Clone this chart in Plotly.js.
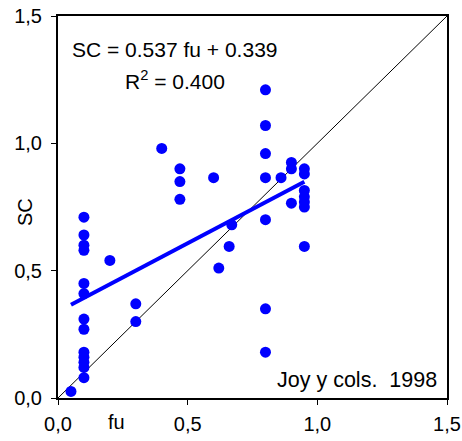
<!DOCTYPE html>
<html>
<head>
<meta charset="utf-8">
<script src="https://cdn.plot.ly/plotly-3.0.1.min.js"></script>
<style>html,body{margin:0;padding:0;background:#fff;}#chart{width:462px;height:441px;}</style>
</head>
<body>
<div id="chart"></div>
<script>
// Observed points (fu, SC)
const fu = [0.05,
  0.1,0.1,0.1,0.1,0.1,0.1,0.1,0.1,0.1,0.1,0.1,0.1,0.1,
  0.2, 0.3,0.3, 0.4, 0.47,0.47,0.47, 0.6, 0.62, 0.66, 0.67,
  0.8,0.8,0.8,0.8,0.8,0.8,0.8,
  0.86, 0.9,0.9,0.9,
  0.95,0.95,0.95,0.95,0.95,0.95,0.95];
const sc = [0.026,
  0.71,0.64,0.60,0.58,0.45,0.41,0.31,0.27,0.18,0.16,0.14,0.12,0.08,
  0.54, 0.37,0.30, 0.98, 0.90,0.85,0.78, 0.865, 0.51, 0.595, 0.68,
  1.21,1.07,0.96,0.865,0.70,0.35,0.18,
  0.865, 0.925,0.90,0.765,
  0.90,0.88,0.815,0.79,0.77,0.75,0.595];
// Regression SC = 0.537 fu + 0.339 over fitted range
const slope = 0.537, intercept = 0.339;
const fitX = [0.05, 0.95];
const fitY = fitX.map(v => slope * v + intercept);
// 1:1 line
const idX = [0, 1.5];
const idY = [0, 1.5];
const tickVals = [0, 0.5, 1.0, 1.5];
const tickText = ['0,0', '0,5', '1,0', '1,5'];

const font = 'Liberation Sans, Arial, sans-serif';
const traces = [
  {x: idX, y: idY, mode: 'lines', line: {color: '#000', width: 1}, hoverinfo: 'skip'},
  {x: fu, y: sc, mode: 'markers', marker: {color: '#0000FF', size: 11}},
  {x: fitX, y: fitY, mode: 'lines', line: {color: '#0000FF', width: 4}}
];
const axisCommon = {
  range: [0, 1.5], tickvals: tickVals, ticktext: tickText,
  showgrid: false, zeroline: false, showline: true, mirror: true,
  linecolor: '#000', linewidth: 2, ticks: 'outside', ticklen: 5, tickwidth: 1,
  tickcolor: '#000', tickfont: {family: font, size: 20, color: '#000'}
};
const layout = {
  width: 462, height: 441,
  margin: {l: 58, r: 15, t: 16, b: 43},
  paper_bgcolor: '#fff', plot_bgcolor: '#fff',
  showlegend: false,
  xaxis: Object.assign({}, axisCommon, {ticklabelstandoff: 2}),
  yaxis: Object.assign({}, axisCommon, {ticklabelstandoff: 5}),
  annotations: [
    {text: 'SC = 0.537 fu + 0.339', xref: 'paper', yref: 'paper', x: 0.302, y: 0.911,
     showarrow: false, xanchor: 'center', yanchor: 'middle', font: {family: font, size: 21, color: '#000'}},
    {text: 'R<sup>2</sup> = 0.400', xref: 'paper', yref: 'paper', x: 0.302, y: 0.833,
     showarrow: false, xanchor: 'center', yanchor: 'middle', font: {family: font, size: 21, color: '#000'}},
    {text: 'Joy y cols.  1998', xref: 'paper', yref: 'paper', x: 0.979, y: 0.048,
     showarrow: false, xanchor: 'right', yanchor: 'middle', font: {family: font, size: 21.5, color: '#000'}},
    {text: 'fu', xref: 'paper', yref: 'paper', x: (116 - 58) / 389, y: -0.062,
     showarrow: false, xanchor: 'center', yanchor: 'middle', font: {family: font, size: 20, color: '#000'}},
    {text: 'SC', xref: 'paper', yref: 'paper', x: (25 - 58) / 389, y: (398 - 212) / 382, textangle: -90,
     showarrow: false, xanchor: 'center', yanchor: 'middle', font: {family: font, size: 20, color: '#000'}}
  ]
};
Plotly.newPlot('chart', traces, layout, {displayModeBar: false, staticPlot: true});
</script>
</body>
</html>
